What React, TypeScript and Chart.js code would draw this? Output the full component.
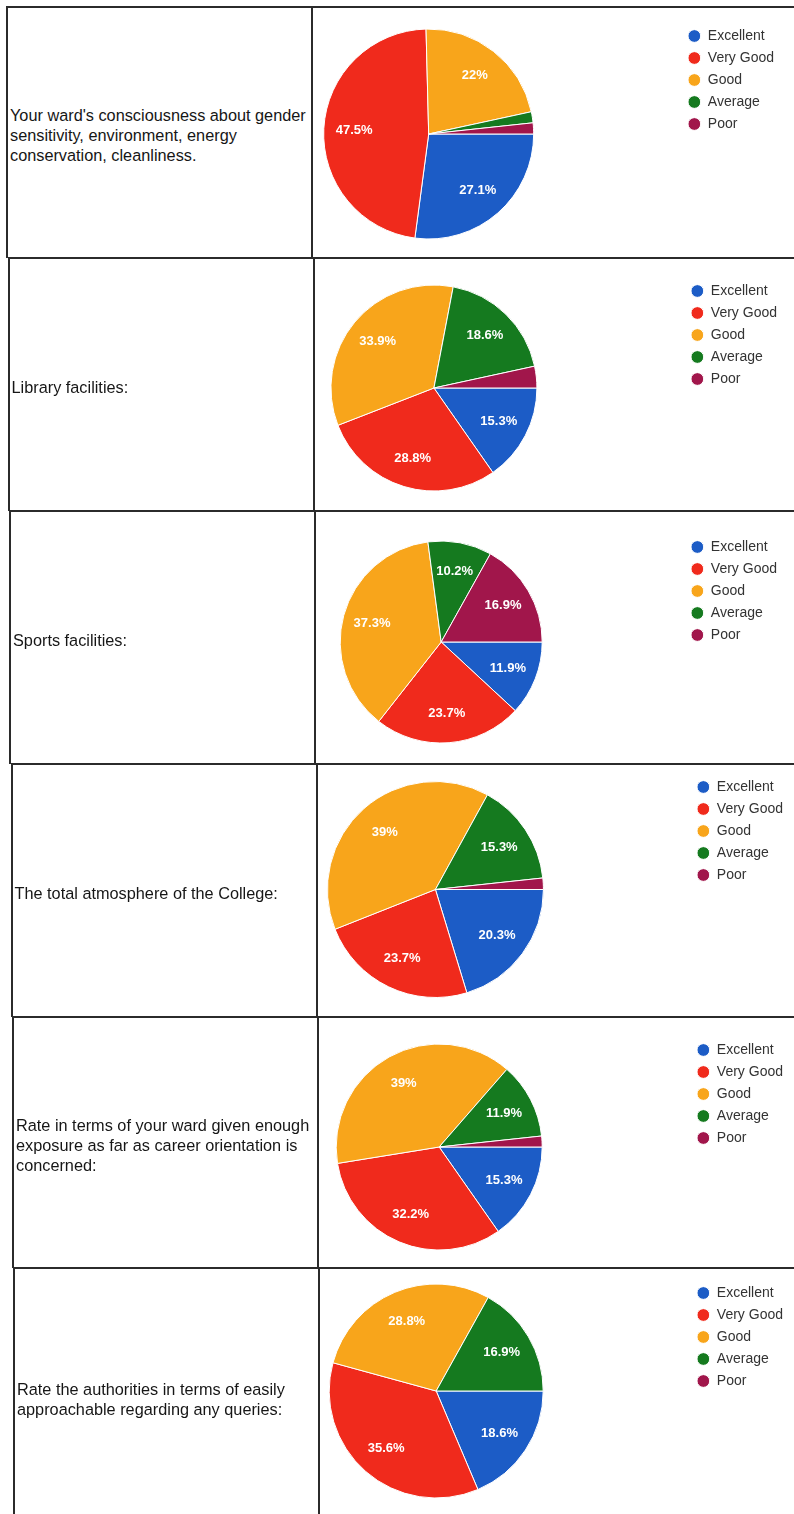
import React, { useEffect, useRef } from "react";
import { Chart, registerables } from "chart.js";

Chart.register(...registerables);

// ---------- data ----------
const categories = ["Excellent", "Very Good", "Good", "Average", "Poor"];
const sliceColors = ["#1c5cc6", "#f02a1c", "#f8a51b", "#157a1f", "#a1164b"];

const questions = [
  "Your ward's consciousness about gender\nsensitivity, environment, energy\nconservation, cleanliness.",
  "Library facilities:",
  "Sports facilities:",
  "The total atmosphere of the College:",
  "Rate in terms of your ward given enough\nexposure as far as career orientation is\nconcerned:",
  "Rate the authorities in terms of easily\napproachable regarding any queries:",
];

const genderValues = [27.1, 47.5, 22, 1.7, 1.7];
const libraryValues = [15.3, 28.8, 33.9, 18.6, 3.4];
const sportsValues = [11.9, 23.7, 37.3, 10.2, 16.9];
const atmosphereValues = [20.3, 23.7, 39, 15.3, 1.7];
const careerValues = [15.3, 32.2, 39, 11.9, 1.7];
const authoritiesValues = [18.6, 35.6, 28.8, 16.9, 0];

const seriesList = [
  genderValues,
  libraryValues,
  sportsValues,
  atmosphereValues,
  careerValues,
  authoritiesValues,
];

// ---------- layout / style ----------
const FONT = "'Liberation Sans', Arial, Helvetica, sans-serif";
const PAGE_W = 794;
const PAGE_H = 1514;
const rowLines = [7, 258, 511, 764, 1017, 1268, 1525];
const rowSkew = [0, 1.5, 3, 4.5, 6, 7];
const rowLayout = [
  { left: 177.5, right: 10, top: 14, bottom: 11, radius: 105 },
  { left: 185, right: 7, top: 18, bottom: 11, radius: 103 },
  { left: 199.5, right: 7, top: 21, bottom: 12, radius: 101 },
  { left: 182, right: 1, top: 8, bottom: 10, radius: 108 },
  { left: 189.5, right: 1, top: 18, bottom: 9, radius: 103 },
  { left: 183.5, right: 1, top: 10, bottom: 21, radius: 107 },
];
const LINE = "#2b2b2b";

const sliceLabelPlugin = {
  id: "sliceLabels",
  afterDatasetsDraw(chart: any) {
    const ctx = chart.ctx as CanvasRenderingContext2D;
    const meta = chart.getDatasetMeta(0);
    const data = chart.data.datasets[0].data as number[];
    const total = data.reduce((a, b) => a + b, 0);
    ctx.save();
    ctx.font = `bold 13px ${FONT}`;
    ctx.fillStyle = "#ffffff";
    ctx.textAlign = "center";
    ctx.textBaseline = "middle";
    meta.data.forEach((arc: any, i: number) => {
      const v = data[i];
      if (!total || v / total < 0.05) return;
      const p = arc.getProps(["x", "y", "startAngle", "endAngle", "outerRadius"], true);
      const mid = (p.startAngle + p.endAngle) / 2;
      const d = p.outerRadius * 0.71;
      ctx.fillText(`${v}%`, p.x + Math.cos(mid) * d, p.y + Math.sin(mid) * d);
    });
    ctx.restore();
  },
};

function PieRow({ index }: { index: number }) {
  const ref = useRef<HTMLCanvasElement | null>(null);
  const top = rowLines[index];
  const height = rowLines[index + 1] - rowLines[index];
  const lay = rowLayout[index];
  const skew = rowSkew[index];

  useEffect(() => {
    if (!ref.current) return;
    const chart = new Chart(ref.current, {
      type: "pie",
      data: {
        labels: categories,
        datasets: [
          {
            data: seriesList[index],
            backgroundColor: sliceColors,
            borderColor: "#ffffff",
            borderWidth: 1,
            radius: lay.radius,
          } as any,
        ],
      },
      options: {
        responsive: false,
        animation: false,
        rotation: 90,
        events: [],
        layout: {
          padding: { left: lay.left, right: lay.right, top: lay.top, bottom: lay.bottom },
        },
        plugins: {
          legend: {
            position: "right",
            align: "start",
            labels: {
              usePointStyle: true,
              pointStyle: "circle",
              boxWidth: 13,
              boxHeight: 9,
              padding: 8,
              color: "#333333",
              font: { family: FONT, size: 14 },
            },
          },
          tooltip: { enabled: false },
        },
      } as any,
      plugins: [sliceLabelPlugin],
    });
    return () => chart.destroy();
  }, [index]);

  return (
    <div style={{ position: "absolute", left: 0, top, width: PAGE_W, height }}>
      {/* top border of the row */}
      <div style={{ position: "absolute", left: 6 + skew, right: 0, top: -1, height: 2, background: LINE }} />
      {/* left border */}
      <div style={{ position: "absolute", left: 6 + skew, top: -1, width: 2, height: height + 1, background: LINE }} />
      {/* column divider */}
      <div style={{ position: "absolute", left: 311 + skew, top: -1, width: 2, height: height + 1, background: LINE }} />
      {/* question text */}
      <div
        style={{
          position: "absolute",
          left: 10 + skew,
          top: 2,
          width: 302,
          height,
          display: "flex",
          alignItems: "center",
          fontFamily: FONT,
          fontSize: 16.3,
          lineHeight: "20px",
          color: "#161616",
          whiteSpace: "pre",
        }}
      >
        {questions[index]}
      </div>
      <canvas
        ref={ref}
        width={PAGE_W}
        height={height}
        style={{ position: "absolute", left: 0, top: 0, width: PAGE_W, height }}
      />
    </div>
  );
}

export default function App() {
  return (
    <div
      style={{
        position: "absolute",
        left: 0,
        top: 0,
        width: PAGE_W,
        height: PAGE_H,
        overflow: "hidden",
        background: "#ffffff",
      }}
    >
      {questions.map((_, i) => (
        <PieRow key={i} index={i} />
      ))}
    </div>
  );
}
